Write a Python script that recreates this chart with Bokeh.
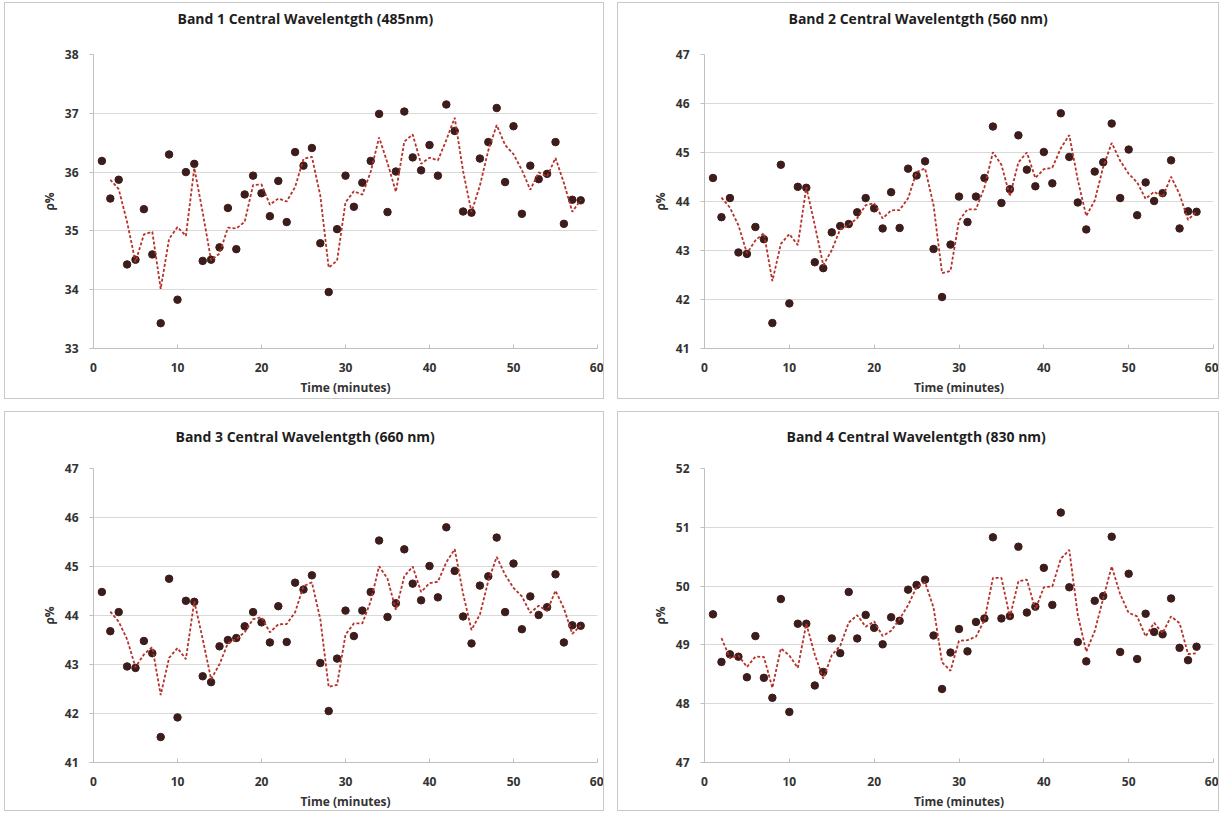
import numpy as np
from bokeh.plotting import figure
from bokeh.layouts import column, row
from bokeh.models import FixedTicker, Range1d, Title
from bokeh.embed import file_html
from bokeh.resources import INLINE

time_min = list(range(1, 59))

band1 = [36.19, 35.55, 35.87, 34.43, 34.51, 35.37, 34.60, 33.43, 36.30, 33.83,
         36.00, 36.14, 34.49, 34.51, 34.72, 35.39, 34.69, 35.62, 35.94, 35.64,
         35.25, 35.85, 35.15, 36.34, 36.11, 36.41, 34.79, 33.96, 35.03, 35.94,
         35.41, 35.82, 36.19, 36.99, 35.32, 36.01, 37.03, 36.25, 36.03, 36.46,
         35.94, 37.15, 36.70, 35.33, 35.31, 36.23, 36.51, 37.09, 35.83, 36.78,
         35.29, 36.11, 35.88, 35.97, 36.51, 35.12, 35.53, 35.52]

band2 = [44.48, 43.68, 44.07, 42.96, 42.93, 43.48, 43.23, 41.52, 44.75, 41.92,
         44.30, 44.28, 42.76, 42.64, 43.37, 43.50, 43.54, 43.78, 44.07, 43.86,
         43.45, 44.19, 43.46, 44.67, 44.53, 44.82, 43.03, 42.05, 43.12, 44.10,
         43.58, 44.10, 44.48, 45.53, 43.97, 44.25, 45.35, 44.65, 44.31, 45.01,
         44.37, 45.80, 44.91, 43.98, 43.43, 44.61, 44.80, 45.59, 44.07, 45.06,
         43.72, 44.39, 44.01, 44.17, 44.84, 43.45, 43.80, 43.79]

band3 = [44.48, 43.68, 44.07, 42.96, 42.93, 43.48, 43.23, 41.52, 44.75, 41.92,
         44.30, 44.28, 42.76, 42.64, 43.37, 43.50, 43.54, 43.78, 44.07, 43.86,
         43.45, 44.19, 43.46, 44.67, 44.53, 44.82, 43.03, 42.05, 43.12, 44.10,
         43.58, 44.10, 44.48, 45.53, 43.97, 44.25, 45.35, 44.65, 44.31, 45.01,
         44.37, 45.80, 44.91, 43.98, 43.43, 44.61, 44.80, 45.59, 44.07, 45.06,
         43.72, 44.39, 44.01, 44.17, 44.84, 43.45, 43.80, 43.79]

band4 = [49.52, 48.71, 48.84, 48.80, 48.45, 49.15, 48.44, 48.10, 49.78, 47.86,
         49.36, 49.36, 48.31, 48.54, 49.11, 48.86, 49.90, 49.11, 49.51, 49.29,
         49.01, 49.47, 49.41, 49.94, 50.02, 50.11, 49.16, 48.25, 48.87, 49.27,
         48.89, 49.39, 49.45, 50.83, 49.45, 49.49, 50.67, 49.55, 49.65, 50.31,
         49.68, 51.25, 49.98, 49.05, 48.72, 49.75, 49.83, 50.84, 48.88, 50.21,
         48.76, 49.53, 49.22, 49.18, 49.79, 48.95, 48.74, 48.97]

titles = ["Band 1 Central Wavelentgth (485nm)", "Band 2 Central Wavelentgth (560 nm)",
          "Band 3 Central Wavelentgth (660 nm)", "Band 4 Central Wavelentgth (830 nm)"]
y_ranges = [(33, 38), (41, 47), (41, 47), (47, 52)]
x_ticks = [0, 10, 20, 30, 40, 50, 60]
x_label = "Time (minutes)"
y_label = "\u03c1%"

FONT = "Open Sans"
MARK = "#3d1c1c"
LINE = "#b5322a"


def make(title, ys, yr, width, height, bl, br, bt, bb, gap, title_offset, margin):
    p = figure(width=width, height=height, output_backend="svg", toolbar_location=None,
               x_range=Range1d(0, 60), y_range=Range1d(*yr),
               min_border_left=bl, min_border_right=br, min_border_top=bt, min_border_bottom=bb,
               background_fill_color="white", border_fill_color="white")
    p.margin = margin
    p.styles = {"border": "1px solid #c8c8c8"}
    p.outline_line_color = None

    # invisible spacer between the frame and the chart title
    p.add_layout(Title(text=" ", text_font=FONT, text_font_size="14px", standoff=gap), "above")

    p.title.text = title
    p.title.align = "left"
    p.title.offset = title_offset
    p.title.text_font = FONT
    p.title.text_font_size = "14px"
    p.title.text_font_style = "bold"
    p.title.text_color = "#1e1e1e"
    p.title.standoff = 0

    p.xgrid.visible = False
    p.ygrid.grid_line_color = "#d9d9d9"
    p.ygrid.grid_line_width = 1
    p.ygrid.ticker = FixedTicker(ticks=list(range(yr[0], yr[1] + 1)))
    p.yaxis.ticker = FixedTicker(ticks=list(range(yr[0], yr[1] + 1)))
    p.xaxis.ticker = FixedTicker(ticks=x_ticks)
    p.xaxis.minor_tick_line_color = None
    p.yaxis.minor_tick_line_color = None
    for ax in (p.xaxis[0], p.yaxis[0]):
        ax.axis_line_color = "#bfbfbf"
        ax.major_tick_line_color = "#bfbfbf"
        ax.major_label_text_font = FONT
        ax.major_label_text_font_size = "12px"
        ax.major_label_text_font_style = "bold"
        ax.major_label_text_color = "#333333"
        ax.axis_label_text_font = FONT
        ax.axis_label_text_font_size = "12px"
        ax.axis_label_text_font_style = "bold"
        ax.axis_label_text_color = "#333333"
    p.xaxis.major_tick_in = 4
    p.xaxis.major_tick_out = 0
    p.yaxis.major_tick_in = 0
    p.yaxis.major_tick_out = 4
    p.xaxis.major_label_standoff = 14
    p.yaxis.major_label_standoff = 11
    p.xaxis.axis_label = x_label
    p.xaxis.axis_label_standoff = 4
    p.yaxis.axis_label = y_label
    p.yaxis.axis_label_standoff = 4

    xs = np.array(time_min, dtype=float)
    yv = np.array(ys, dtype=float)
    ma = (yv[1:] + yv[:-1]) / 2.0
    p.scatter(xs, yv, size=7.5, fill_color=MARK, line_color=MARK, marker="circle")
    p.line(xs[1:], ma, line_color=LINE, line_width=1.8, line_dash="3 2")
    return p


p1 = make(titles[0], band1, y_ranges[0], 600, 397, 88, 8, 51, 52, 6, 84, (2, 0, 0, 4))
p2 = make(titles[1], band2, y_ranges[1], 602, 397, 86, 7, 51, 52, 6, 84, (2, 0, 0, 13))
p3 = make(titles[2], band3, y_ranges[2], 600, 400, 88, 8, 56, 50, 2, 82, (12, 0, 0, 4))
p4 = make(titles[3], band4, y_ranges[3], 602, 400, 86, 7, 56, 50, 2, 82, (12, 0, 0, 13))

layout = column(row(p1, p2), row(p3, p4))
open("out.html", "w").write(file_html(layout, INLINE))
